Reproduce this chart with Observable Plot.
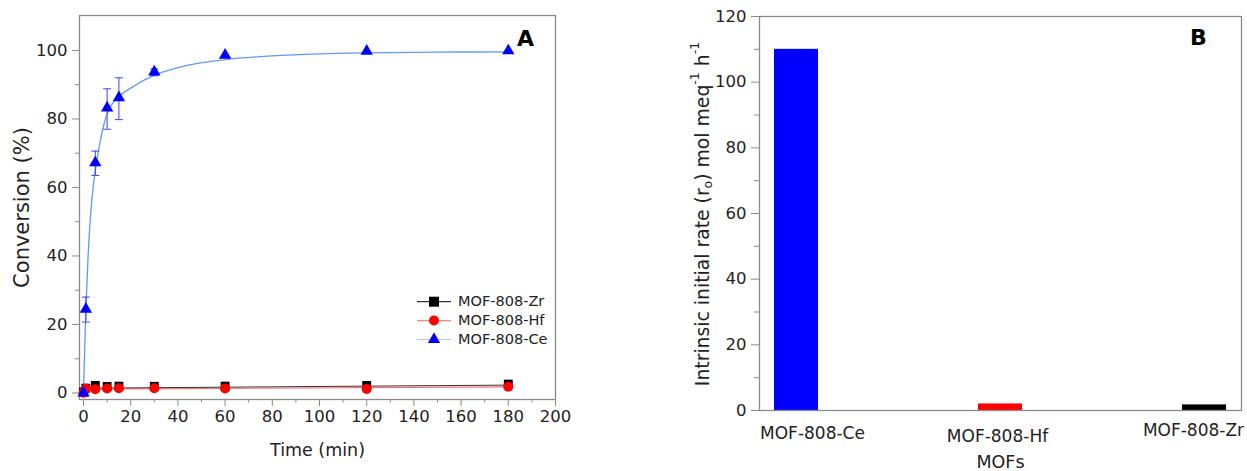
<!DOCTYPE html>
<html><head><meta charset="utf-8">
<script src="https://cdn.jsdelivr.net/npm/d3@7"></script>
<script src="https://cdn.jsdelivr.net/npm/@observablehq/plot@0.6"></script>
<style>
body{margin:0;background:#fff;font-family:"DejaVu Sans",sans-serif;}
#wrap{position:relative;width:1247px;height:471px;overflow:hidden;}
#left{position:absolute;left:0;top:0;}
#right{position:absolute;left:640px;top:0;}
</style></head><body><div id="wrap"><div id="left"></div><div id="right"></div></div>
<script>
// ---- Panel A data ----
const time = [0, 1, 5, 10, 15, 30, 60, 120, 180];
const convZr = [0.3, 1.4, 2.2, 1.9, 2.0, 1.95, 2.0, 2.2, 2.6];
const convHf = [0.1, 1.3, 1.1, 1.3, 1.4, 1.4, 1.3, 1.2, 1.8];
const convCe = [0, 24.5, 67.2, 83.2, 86.2, 93.7, 98.6, 99.8, 99.9];
const errCeLow  = [0, 20.7, 63.5, 77.0, 79.8, 92.6, 98.6, 99.8, 99.9];
const errCeHigh = [0, 28.0, 70.6, 88.8, 92.0, 94.6, 98.6, 99.8, 99.9];
const fitCeTime = [0, 0.5, 1, 2, 3, 4, 5, 7.5, 10, 15, 20, 30, 40, 60, 80, 100, 120, 150, 180];
const fitCe     = [0, 13, 24, 41, 52, 59.5, 65, 75, 81.5, 86.5, 89, 92.8, 95, 97.3, 98.4, 99, 99.3, 99.5, 99.6];
const fitLowTime = [0, 1, 180];
const fitZr = [0.3, 1.4, 2.3];
const fitHf = [0.1, 1.1, 1.8];
const seriesNames = ["MOF-808-Zr", "MOF-808-Hf", "MOF-808-Ce"];
const xMajor = [0, 20, 40, 60, 80, 100, 120, 140, 160, 180, 200];
const xMinor = [10, 30, 50, 70, 90, 110, 130, 150, 170, 190];
const yMajorA = [0, 20, 40, 60, 80, 100];
const yMinorA = [10, 30, 50, 70, 90];

// ---- Panel B data ----
const mofs = ["MOF-808-Ce", "MOF-808-Hf", "MOF-808-Zr"];
const rates = [110, 2.0, 1.7];
const yMajorB = [0, 20, 40, 60, 80, 100, 120];
const yMinorB = [10, 30, 50, 70, 90, 110];

const FONT = "DejaVu Sans";
const AX = "#8a8a8a";

const capSymbol = {draw(ctx, size) { const w = Math.sqrt(size / Math.PI); ctx.moveTo(-w, 0); ctx.lineTo(w, 0); }};

const ce = time.map((t, i) => ({t, v: convCe[i], lo: errCeLow[i], hi: errCeHigh[i]}));
const errPts = ce.filter(d => d.hi - d.lo > 0.5);
const zr = time.map((t, i) => ({t, v: convZr[i]}));
const hf = time.map((t, i) => ({t, v: convHf[i]}));
const fitCeData = fitCeTime.map((t, i) => ({t, v: fitCe[i]}));
const fitZrData = fitLowTime.map((t, i) => ({t, v: fitZr[i]}));
const fitHfData = fitLowTime.map((t, i) => ({t, v: fitHf[i]}));

const left = Plot.plot({
  width: 640, height: 471,
  marginLeft: 79, marginRight: 85, marginTop: 15, marginBottom: 72,
  style: {fontFamily: FONT, fontSize: "16px", color: "#222", background: "transparent"},
  x: {domain: [-1.7, 200]},
  y: {domain: [-1.9, 110.2]},
  marks: [
    Plot.frame({stroke: AX, strokeWidth: 1.3}),
    Plot.axisX({ticks: xMinor, tickSize: 3.5, stroke: AX, text: null, label: null}),
    Plot.axisX({ticks: xMajor, tickSize: 7, tickPadding: 4, stroke: AX, label: null, tickFormat: d => d, fontSize: 16.5}),
    Plot.axisY({ticks: yMinorA, tickSize: 4, stroke: AX, text: null, label: null}),
    Plot.axisY({ticks: yMajorA, tickSize: 7, tickPadding: 5, stroke: AX, label: null, tickFormat: d => d, fontSize: 16.5}),
    Plot.line(fitHfData, {x: "t", y: "v", stroke: "#ff6f6f", strokeWidth: 1.2}),
    Plot.line(fitZrData, {x: "t", y: "v", stroke: "#333", strokeWidth: 1}),
    Plot.line(fitCeData, {x: "t", y: "v", stroke: "#5d9cf2", strokeWidth: 1.3, curve: "monotone-x"}),
    Plot.ruleX(errPts, {x: "t", y1: "lo", y2: "hi", stroke: "#4040ff", strokeWidth: 1}),
    Plot.dot(errPts, {x: "t", y: "lo", symbol: capSymbol, r: 4, stroke: "#4040ff", fill: "none", strokeWidth: 1}),
    Plot.dot(errPts, {x: "t", y: "hi", symbol: capSymbol, r: 4, stroke: "#4040ff", fill: "none", strokeWidth: 1}),
    Plot.dot(zr, {x: "t", y: "v", symbol: "square", r: 5, fill: "#000"}),
    Plot.dot(hf, {x: "t", y: "v", symbol: "circle", r: 5, fill: "#ff0000"}),
    Plot.dot(ce, {x: "t", y: "v", symbol: "triangle", r: 4.6, fill: "#0000ff"}),
    Plot.text(["A"], {frameAnchor: "top-right", dx: -30, dy: 23, fontWeight: "bold", fontSize: 22, fill: "#000", textAnchor: "middle", lineAnchor: "middle"}),
    Plot.text(["Conversion (%)"], {frameAnchor: "left", dx: -57, rotate: -90, fontSize: 21, fill: "#222", textAnchor: "middle", lineAnchor: "middle"}),
    Plot.text(["Time (min)"], {frameAnchor: "bottom", dy: 51, fontSize: 17.5, fill: "#222", textAnchor: "middle", lineAnchor: "middle"})
  ]
});
document.getElementById("left").appendChild(left);

// legend for panel A
{
  const svg = d3.select(left);
  const g = svg.append("g").attr("font-family", FONT).attr("font-size", 14.5).attr("fill", "#222").attr("text-anchor", "start");
  const rows = [
    {name: seriesNames[0], line: "#333", fill: "#000", sym: d3.symbolSquare, size: 100},
    {name: seriesNames[1], line: "#ff8080", fill: "#ff0000", sym: d3.symbolCircle, size: 78},
    {name: seriesNames[2], line: "#a9c9f7", fill: "#0000ff", sym: d3.symbolTriangle, size: 66}
  ];
  rows.forEach((r, i) => {
    const y = 301.7 + i * 18.9;
    g.append("line").attr("x1", 417).attr("x2", 451).attr("y1", y).attr("y2", y).attr("stroke", r.line).attr("stroke-width", 1.2);
    g.append("path").attr("d", d3.symbol(r.sym, r.size)()).attr("transform", `translate(434,${y})`).attr("fill", r.fill);
    g.append("text").attr("x", 458).attr("y", y).attr("dominant-baseline", "middle").attr("text-anchor", "start").text(r.name);
  });
}

const bars = mofs.map((m, i) => ({mof: m, rate: rates[i]}));
const right = Plot.plot({
  width: 607, height: 471,
  marginLeft: 119, marginRight: 6, marginTop: 16, marginBottom: 61,
  style: {fontFamily: FONT, fontSize: "16px", color: "#222", background: "transparent"},
  x: {domain: mofs, paddingInner: 0.785, paddingOuter: 0.071},
  y: {domain: [0, 120]},
  color: {domain: mofs, range: ["#0000ff", "#ff0000", "#000000"]},
  marks: [
    Plot.barY(bars, {x: "mof", y: "rate", fill: "mof"}),
    Plot.frame({stroke: AX, strokeWidth: 1.3}),
    Plot.axisY({ticks: yMinorB, tickSize: 5, stroke: AX, text: null, label: null}),
    Plot.axisY({ticks: yMajorB, tickSize: 8, tickPadding: 5, stroke: AX, label: null, tickFormat: d => d, fontSize: 16.5}),
    Plot.axisX({ticks: [mofs[0]], tickSize: 0, tickPadding: 15, label: null, fontSize: 17, dx: 16, dy: 1}),
    Plot.axisX({ticks: [mofs[1]], tickSize: 0, tickPadding: 15, label: null, fontSize: 17, dx: -3, dy: 4}),
    Plot.axisX({ticks: [mofs[2]], tickSize: 0, tickPadding: 15, label: null, fontSize: 17, dx: -11, dy: -2}),
    Plot.text(["B"], {frameAnchor: "top-right", dx: -43, dy: 21, fontWeight: "bold", fontSize: 22, fill: "#000", textAnchor: "middle", lineAnchor: "middle"}),
    Plot.text(["MOFs"], {frameAnchor: "bottom", dy: 52, fontSize: 17.5, fill: "#222", textAnchor: "middle", lineAnchor: "middle"})
  ]
});
document.getElementById("right").appendChild(right);

// y-axis title for panel B with sub/superscripts
{
  const svg = d3.select(right);
  const t = svg.append("text")
    .attr("font-family", FONT).attr("font-size", 18.8).attr("fill", "#222")
    .attr("text-anchor", "middle").attr("dominant-baseline", "middle")
    .attr("transform", "translate(63,214) rotate(-90)");
  t.append("tspan").text("Intrinsic initial rate (r");
  t.append("tspan").attr("font-size", 12.5).attr("dy", 5).text("o");
  t.append("tspan").attr("dy", -5).text(") mol meq");
  t.append("tspan").attr("font-size", 12.5).attr("dy", -8).text("-1");
  t.append("tspan").attr("dy", 8).text(" h");
  t.append("tspan").attr("font-size", 12.5).attr("dy", -8).text("-1");
}
</script></body></html>
